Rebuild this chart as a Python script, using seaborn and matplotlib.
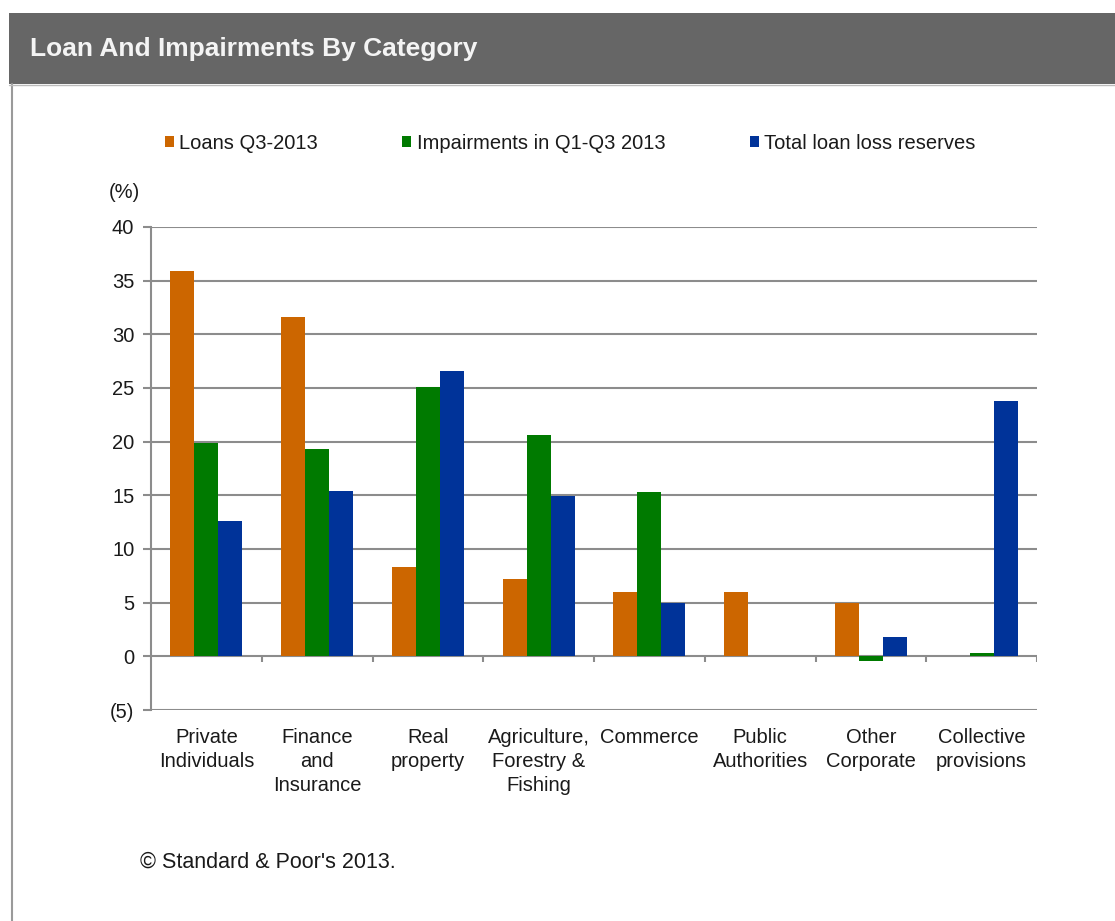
import matplotlib
matplotlib.use("Agg")
import matplotlib.pyplot as plt
from matplotlib.patches import Rectangle
from matplotlib.lines import Line2D
import seaborn as sns
import pandas as pd
import numpy as np

# Loan book shares and impairment shares by category, in percent
categories = [
    "Private\nIndividuals",
    "Finance\nand\nInsurance",
    "Real\nproperty",
    "Agriculture,\nForestry &\nFishing",
    "Commerce",
    "Public\nAuthorities",
    "Other\nCorporate",
    "Collective\nprovisions",
]
series_names = ["Loans Q3-2013", "Impairments in Q1-Q3 2013", "Total loan loss reserves"]
loans_q3_2013 = [35.9, 31.6, 8.3, 7.2, 6.0, 6.0, 5.0, 0.0]
impairments_q1_q3_2013 = [19.9, 19.3, 25.1, 20.6, 15.3, 0.0, -0.4, 0.3]
loan_loss_reserves = [12.6, 15.4, 26.6, 14.9, 5.0, 0.0, 1.8, 23.8]
y_ticks = [-5, 0, 5, 10, 15, 20, 25, 30, 35, 40]
y_tick_labels = ["(5)", "0", "5", "10", "15", "20", "25", "30", "35", "40"]

colors = ["#CC6600", "#007A00", "#003399"]

df = pd.DataFrame({
    "category": categories * 3,
    "series": [series_names[0]] * 8 + [series_names[1]] * 8 + [series_names[2]] * 8,
    "value": loans_q3_2013 + impairments_q1_q3_2013 + loan_loss_reserves,
})

sns.set_theme(style="white")
plt.rcParams["font.family"] = ["Liberation Sans", "DejaVu Sans"]

W, H = 1115, 921
FS = 14.5
TXT = "#1a1a1a"
fig = plt.figure(figsize=(W / 100, H / 100), dpi=100)

# Header band with title
fig.patches.append(Rectangle((9 / W, 1 - 84 / H), 1 - 9 / W, 71 / H,
                             transform=fig.transFigure, facecolor="#666666",
                             edgecolor="none", zorder=0))
fig.text(30 / W, 1 - 49 / H, "Loan And Impairments By Category", color="#f4f4f4",
         fontsize=19, fontweight="bold", va="center", ha="left")
# Left frame line of the panel
fig.lines.append(Line2D([11.5 / W, 11.5 / W], [0, 1 - 84 / H], transform=fig.transFigure,
                        color="#9a9a9a", linewidth=1.5))
fig.lines.append(Line2D([9 / W, 1], [1 - 85 / H, 1 - 85 / H], transform=fig.transFigure,
                        color="#bbbbbb", linewidth=1.0))

ax = fig.add_axes([151 / W, 1 - 710 / H, (1037 - 151) / W, (710 - 227) / H])

sns.barplot(data=df, x="category", y="value", hue="series", order=categories,
            hue_order=series_names, palette=colors, width=0.65, saturation=1,
            edgecolor="none", linewidth=0, ax=ax, legend=False, zorder=3)

ax.set_ylim(-5, 40)
ax.set_xlim(-0.5, len(categories) - 0.5)
ax.set_yticks(y_ticks)
ax.set_yticklabels(y_tick_labels)
ax.set_xlabel("")
ax.set_ylabel("")

grid_c = "#8c8c8c"
for t in y_ticks:
    ax.axhline(t, color=grid_c, linewidth=1.5, zorder=1)

for s in ["top", "right", "bottom"]:
    ax.spines[s].set_visible(False)
ax.spines["left"].set_color(grid_c)
ax.spines["left"].set_linewidth(1.5)

ax.tick_params(axis="y", direction="out", length=6, width=1.5, color=grid_c,
               labelsize=FS, labelcolor=TXT, pad=6, left=True)
ax.tick_params(axis="x", length=0, labelsize=FS, labelcolor=TXT, pad=13)
for lab in ax.get_xticklabels():
    lab.set_verticalalignment("top")
    lab.set_linespacing(1.32)

# Category boundary ticks on the zero line
bounds = np.arange(0.5, len(categories), 1.0)
ax.vlines(bounds, -0.55, 0, color=grid_c, linewidth=1.5, zorder=2)

# Percent marker above the value axis
fig.text(109 / W, 1 - 193 / H, "(%)", fontsize=FS, va="center", ha="left", color=TXT)

# Legend
handles = [Rectangle((0, 0), 1, 1, facecolor=c, edgecolor="none") for c in colors]
fig.legend(handles, series_names, loc="center left", bbox_to_anchor=(165 / W, 1 - 143 / H),
           ncol=3, frameon=False, fontsize=FS, labelcolor=TXT, handlelength=0.45,
           handleheight=0.45, handletextpad=0.25, columnspacing=4.2,
           borderpad=0, borderaxespad=0)

fig.text(140 / W, 1 - 862 / H, "\u00a9 Standard & Poor's 2013.", fontsize=15.5,
         va="center", ha="left", color=TXT)

fig.savefig("out.png", dpi=100, facecolor="white")
